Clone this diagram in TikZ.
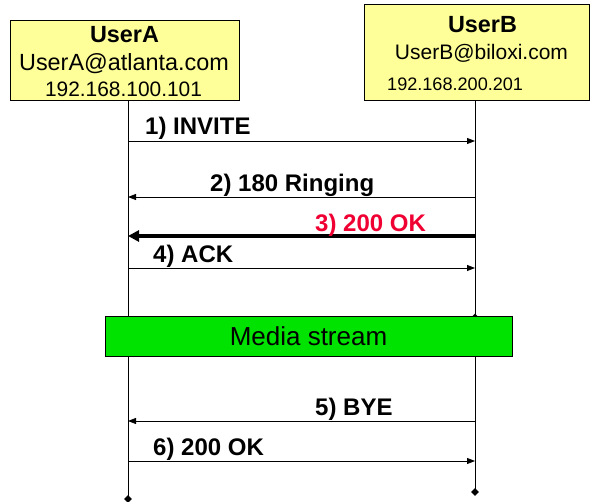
\documentclass[tikz,border=0pt]{standalone}
\usepackage{fontspec}
\setmainfont{Liberation Sans}
\usetikzlibrary{arrows.meta,shapes.geometric}

\definecolor{hdryellow}{RGB}{255,255,153}
\definecolor{mediagreen}{RGB}{0,226,0}
\definecolor{okred}{RGB}{240,0,50}

\begin{document}
\begin{tikzpicture}[x=1pt,y=-1pt,
  hdr/.style={draw,fill=hdryellow,line width=0.8pt,inner sep=0pt},
  msg/.style={line width=0.8pt,-{Triangle[length=8pt,width=6pt]}},
  lbl/.style={anchor=base west,inner sep=0pt,font=\fontsize{24}{28}\selectfont\bfseries},
  txt/.style={anchor=base,inner sep=0pt},
  dot/.style={diamond,fill,inner sep=0pt,minimum size=8pt}]
\useasboundingbox (0,0) rectangle (590,502);

% Participants
\node [hdr,minimum width=229pt,minimum height=80pt] (boxA) at (124.5,60) {};
\node [hdr,minimum width=225pt,minimum height=96pt] (boxB) at (476.5,52) {};

\node [txt,font=\fontsize{23.4}{28}\selectfont\bfseries] (nameA) at (124.5,43) {UserA};
\node [txt,font=\fontsize{23.4}{28}\selectfont] (mailA) at (124,71) {UserA@atlanta.com};
\node [txt,font=\fontsize{20.9}{25}\selectfont] (ipA) at (123.5,97) {192.168.100.101};

\node [txt,font=\fontsize{23.4}{28}\selectfont\bfseries] (nameB) at (482.5,33) {UserB};
\node [txt,font=\fontsize{21}{25}\selectfont] (mailB) at (481.5,60) {UserB@biloxi.com};
\node [txt,anchor=base west,font=\fontsize{18.1}{22}\selectfont] (ipB) at (387,91) {192.168.200.201};

% Lifelines
\node [dot] (endA) at (128,499) {};
\node [dot] (endB) at (475,492) {};
\node [dot,minimum size=5pt] (midB) at (475,316) {};
\draw [line width=0.8pt] (boxA.south -| endA) -- (endA.center);
\draw [line width=0.8pt] (boxB.south -| endB) -- (endB.center);

% Media stream
\node [draw,fill=mediagreen,line width=0.8pt,minimum width=407pt,minimum height=40pt,
       font=\fontsize{26}{30}\selectfont] (media) at (308.5,336) {Media stream};

% Messages
\foreach \n/\y in {1/141,2/197,3/236,4/268,5/421,6/461}
  {\coordinate (a\n) at (128,\y); \coordinate (b\n) at (475,\y);}

\draw [msg] (a1) -- (b1);
\draw [msg] (b2) -- (a2);
\draw [line width=4pt,-{Triangle[length=11pt,width=11pt]}] (b3) -- (a3);
\draw [msg] (a4) -- (b4);
\draw [msg] (b5) -- (a5);
\draw [msg] (a6) -- (b6);

\node [lbl] (l1) at (145,135) {1) INVITE};
\node [lbl] (l2) at (210,192) {2) 180 Ringing};
\node [lbl,text=okred] (l3) at (315,232) {3) 200 OK};
\node [lbl] (l4) at (153,263) {4) ACK};
\node [lbl] (l5) at (315,416) {5) BYE};
\node [lbl] (l6) at (153,456) {6) 200 OK};

\end{tikzpicture}
\end{document}
